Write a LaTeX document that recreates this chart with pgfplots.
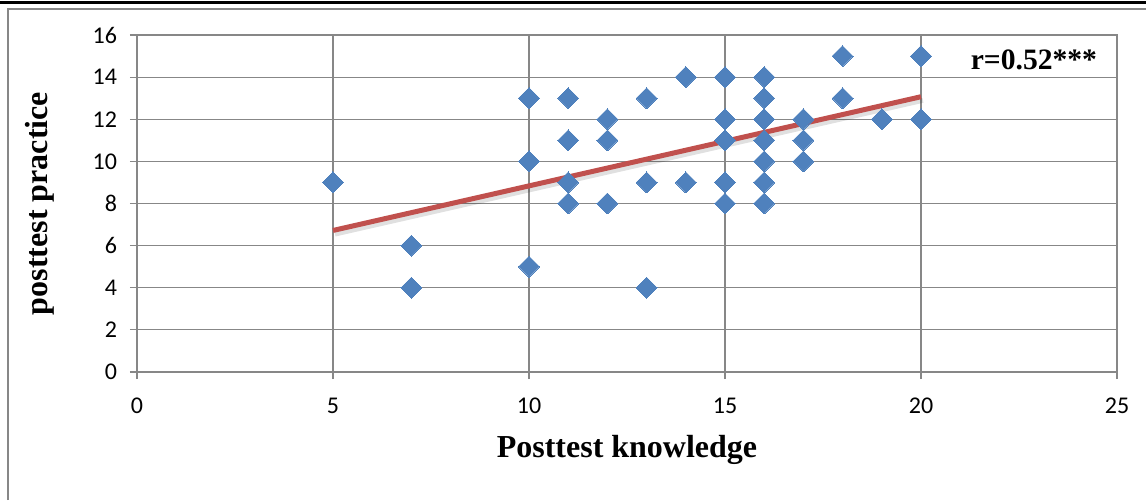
\documentclass[border=0pt]{standalone}
\usepackage{fontspec}
\setmainfont{Carlito}
\newfontfamily\timesfont{Liberation Serif}
\usepackage{pgfplots}
\pgfplotsset{compat=1.18}
\definecolor{ptblue}{HTML}{4F81BD}
\definecolor{trendred}{HTML}{C0504D}
\definecolor{gridgray}{HTML}{878787}
\begin{document}
\begin{tikzpicture}
\useasboundingbox (-68.5pt,-64pt) rectangle (504.5pt,186pt);
\draw[black, line width=1.6pt] (-68.5pt,184.6pt) -- (504.5pt,184.6pt);
\draw[gridgray, line width=0.6pt] (-64.5pt,-64pt) -- (-64.5pt,181.5pt) -- (504.5pt,181.5pt);
\begin{axis}[
  at={(0,0)}, anchor=south west,
  scale only axis,
  width=490pt, height=168.5pt,
  xmin=0, xmax=25, ymin=0, ymax=16,
  xtick={0,5,...,25}, ytick={0,2,...,16},
  grid=major,
  major grid style={gridgray, line width=0.55pt},
  axis line style={gridgray, line width=0.55pt},
  tick style={gridgray, line width=0.55pt},
  tick align=outside,
  major tick length=3.5pt,
  xtick pos=bottom, ytick pos=left,
  /pgf/number format/assume math mode=true,
  ticklabel style={font=\fontsize{12}{14}\selectfont, text=black},
  xticklabel style={yshift=-6pt},
  yticklabel style={xshift=-3pt},
  clip=false,
]
\addplot[only marks, mark=square*, mark size=3.7pt,
  mark options={rotate=45, fill=ptblue, draw=ptblue, line width=0pt}] coordinates {
(5,9) (7,6) (7,4)
(10,13) (10,10) (10,5)
(11,13) (11,11) (11,9) (11,8)
(12,12) (12,11) (12,8)
(13,13) (13,9) (13,4)
(14,14) (14,9)
(15,14) (15,12) (15,11) (15,9) (15,8)
(16,14) (16,13) (16,12) (16,11) (16,10) (16,9) (16,8)
(17,12) (17,11) (17,10)
(18,15) (18,13)
(19,12)
(20,15) (20,12)
};
\addplot[black, opacity=0.12, line width=2.5pt, no marks, forget plot] coordinates {(5.05,6.55) (20.05,12.9)};
\addplot[trendred, line width=2.5pt, no marks] coordinates {(5,6.72) (20,13.07)};
\node[font=\timesfont\bfseries\fontsize{14.8}{17}\selectfont, anchor=center] at (axis cs:22.88,14.8) {r=0.52***};
\node[font=\timesfont\bfseries\fontsize{16}{18}\selectfont, anchor=center] at ([yshift=-39pt]rel axis cs:0.5,0) {Posttest knowledge};
\node[font=\timesfont\bfseries\fontsize{16}{18}\selectfont, anchor=center, rotate=90] at ([xshift=-48.5pt]rel axis cs:0,0.5) {posttest practice};
\end{axis}
\end{tikzpicture}
\end{document}
